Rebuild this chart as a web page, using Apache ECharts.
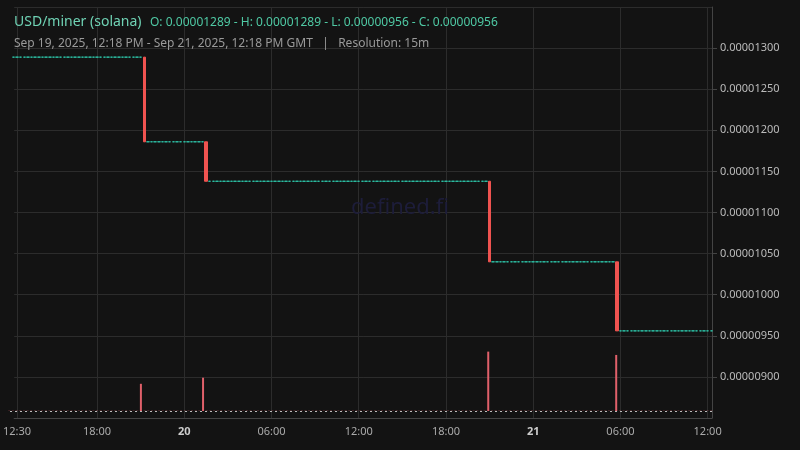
<!DOCTYPE html>
<html><head><meta charset="utf-8">
<script src="https://cdn.jsdelivr.net/npm/echarts@6/dist/echarts.min.js"></script>
<style>html,body{margin:0;background:#131313}#c{width:800px;height:450px}</style>
</head><body><div id="c"></div>
<script>
// trade events (UTC): time, open, close, volume
const tradeTimes = ['2025-09-19T21:15','2025-09-20T01:30','2025-09-20T21:00','2025-09-21T05:45'];
const tradeOpen  = [0.00001289,0.00001186,0.00001138,0.00001040];
const tradeClose = [0.00001186,0.00001138,0.00001040,0.00000956];
const tradeVol   = [245,300,535,505];
const startPrice = 0.00001289;
const tickLabels = ['2025-09-19T12:30','2025-09-19T18:00','2025-09-20T00:00','2025-09-20T06:00','2025-09-20T12:00','2025-09-20T18:00','2025-09-21T00:00','2025-09-21T06:00','2025-09-21T12:00'];
const tStart = Date.parse('2025-09-19T12:18Z'), tEnd = Date.parse('2025-09-21T12:18Z');

const STEP = 15*60*1000;
const tradeMs = tradeTimes.map(t=>Date.parse(t+'Z'));
const candles=[], vols=[];
let last = startPrice;
for (let t = Math.ceil(tStart/STEP)*STEP - STEP; t <= tEnd; t += STEP) {
  const i = tradeMs.indexOf(t);
  if (i >= 0) {
    candles.push({value:[t, tradeOpen[i], tradeClose[i], tradeClose[i], tradeOpen[i]]});
    vols.push([t, tradeVol[i]]); last = tradeClose[i];
  } else {
    candles.push({value:[t,last,last,last,last], itemStyle:{color:'#26a69a',borderColor:'#2ec4a8'}});
    vols.push([t, 2]);
  }
}
const ticks = tickLabels.map(t=>Date.parse(t+'Z'));
const fmtX = v => { const d=new Date(v); const h=d.getUTCHours(), m=d.getUTCMinutes();
  if (h===0&&m===0) return '{b|'+d.getUTCDate()+'}';
  return String(h).padStart(2,'0')+':'+String(m).padStart(2,'0'); };
const chart = echarts.init(document.getElementById('c'));
chart.setOption({
  backgroundColor:'#131313', animation:false,
  textStyle:{fontFamily:'Noto Sans'},
  title:[{text:'USD/miner (solana)',left:9,top:10,textStyle:{color:'#6fd2b4',fontSize:14,fontWeight:'normal',fontFamily:'Noto Sans'}},
    {text:'O: 0.00001289 - H: 0.00001289 - L: 0.00000956 - C: 0.00000956',left:145,top:12,textStyle:{color:'#4fc9a4',fontSize:12,fontWeight:'normal',fontFamily:'Noto Sans'}},
    {text:'Sep 19, 2025, 12:18 PM - Sep 21, 2025, 12:18 PM GMT   |   Resolution: 15m',left:9,top:33,textStyle:{color:'#9a9a9a',fontSize:12,fontWeight:'normal',fontFamily:'Noto Sans'}},
    {text:'defined.fi',left:'center',top:192,textStyle:{color:'#1d1d3a',fontSize:22,fontWeight:'normal',fontFamily:'Noto Sans'}}],
  grid:[{left:10,right:88,top:7,bottom:32},{left:10,right:88,top:300,bottom:39}],
  xAxis:[0,1].map(g=>({type:'value',gridIndex:g,min:tStart,max:tEnd,
    axisLine:{show:g===0,onZero:false,lineStyle:{color:'#444'}},axisTick:{show:false,customValues:ticks},
    splitLine:{show:g===0,lineStyle:{color:'#2c2c2c'}},
    axisLabel:{show:g===0,customValues:ticks,formatter:fmtX,color:'#aaa',fontSize:11,hideOverlap:false,
      rich:{b:{fontWeight:'bold',color:'#ccc',fontSize:11}}}})),
  yAxis:[{type:'value',position:'right',min:0.0000085,max:0.0000135,interval:0.0000005,
      axisLine:{show:true,lineStyle:{color:'#444'}},splitLine:{lineStyle:{color:'#2c2c2c'}},
      axisLabel:{showMinLabel:false,showMaxLabel:false,color:'#bbb',fontSize:11,margin:8,formatter:v=>v.toFixed(8)}},
    {type:'value',gridIndex:1,min:0,max:1000,show:false}],
  series:[{type:'candlestick',data:candles,barWidth:3,
      itemStyle:{color:'#26a69a',color0:'#ef5350',borderColor:'#26a69a',borderColor0:'#ef5350',borderWidth:1},
      markLine:{symbol:'none',silent:true,data:[{yAxis:0.00000956}],
        lineStyle:{color:'#bbb',type:[2,3],width:1},
        label:{position:'end',formatter:'0.00000956',color:'#fff',backgroundColor:'#1fbf8f',padding:[4,6],fontSize:11,distance:6}}},
    {type:'bar',xAxisIndex:1,yAxisIndex:1,data:vols,barWidth:2,itemStyle:{color:'#e0606a'},
      markLine:{symbol:'none',silent:true,data:[{yAxis:0}],lineStyle:{color:'#bbb',type:[2,3],width:1},label:{show:false}}}]
});
</script></body></html>
